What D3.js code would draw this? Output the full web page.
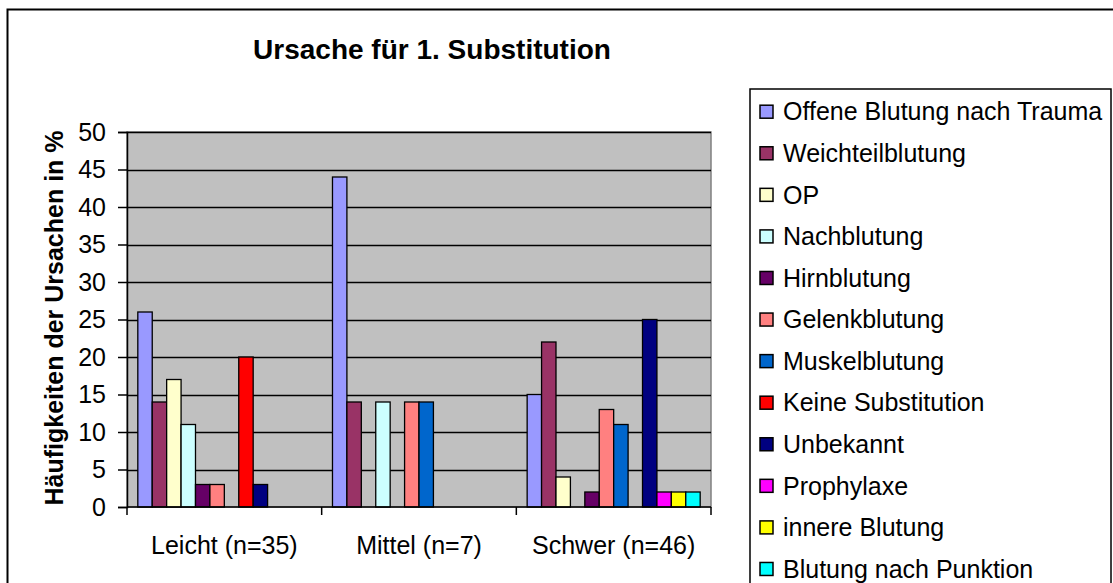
<!DOCTYPE html>
<html>
<head>
<meta charset="utf-8">
<script src="https://cdn.jsdelivr.net/npm/d3@7/dist/d3.min.js"></script>
<style>
  html, body { margin: 0; padding: 0; background: #fff; }
  svg { display: block; }
  text { font-family: "Liberation Sans", Arial, sans-serif; fill: #000; }
</style>
</head>
<body>
<svg id="chart" width="1113" height="583"></svg>
<script>
// ---- data ----
const categories = ["Leicht (n=35)", "Mittel (n=7)", "Schwer (n=46)"];
const seriesNames = [
  "Offene Blutung nach Trauma", "Weichteilblutung", "OP", "Nachblutung",
  "Hirnblutung", "Gelenkblutung", "Muskelblutung", "Keine Substitution",
  "Unbekannt", "Prophylaxe", "innere Blutung", "Blutung nach Punktion"
];
const seriesColors = [
  "#9999FF", "#993366", "#FFFFCC", "#CCFFFF", "#660066", "#FF8080",
  "#0066CC", "#FF0000", "#000080", "#FF00FF", "#FFFF00", "#00FFFF"
];
// values per series: [Leicht, Mittel, Schwer]
const offeneBlutung = [26, 44, 15];
const weichteilblutung = [14, 14, 22];
const op = [17, 0, 4];
const nachblutung = [11, 14, 0];
const hirnblutung = [3, 0, 2];
const gelenkblutung = [3, 14, 13];
const muskelblutung = [0, 14, 11];
const keineSubstitution = [20, 0, 0];
const unbekannt = [3, 0, 25];
const prophylaxe = [0, 0, 2];
const innereBlutung = [0, 0, 2];
const blutungNachPunktion = [0, 0, 2];
const yTicks = [0, 5, 10, 15, 20, 25, 30, 35, 40, 45, 50];
const titleText = "Ursache für 1. Substitution";
const yTitle = "Häufigkeiten der Ursachen in %";

const seriesValues = [offeneBlutung, weichteilblutung, op, nachblutung, hirnblutung,
  gelenkblutung, muskelblutung, keineSubstitution, unbekannt, prophylaxe,
  innereBlutung, blutungNachPunktion];

// ---- layout ----
const svg = d3.select("#chart");
const plot = { left: 127, right: 711, top: 132, bottom: 507 };

// outer border
svg.append("rect").attr("x", 7.5).attr("y", 9.5).attr("width", 1120).attr("height", 600)
  .attr("fill", "#fff").attr("stroke", "#000").attr("stroke-width", 2);

// title
svg.append("text").attr("x", 432).attr("y", 59).attr("text-anchor", "middle")
  .style("font-size", "28px").style("font-weight", "bold").text(titleText);

const x0 = d3.scaleBand().domain(categories).range([plot.left, plot.right]).paddingInner(0).paddingOuter(0);
const nS = seriesNames.length;
const gapRatio = 1.5;
const x1 = d3.scaleBand().domain(d3.range(nS))
  .range([0, x0.bandwidth()])
  .paddingInner(0)
  .paddingOuter(gapRatio / 2);
const y = d3.scaleLinear().domain([0, 50]).range([plot.bottom, plot.top]);

// plot background
svg.append("rect").attr("x", plot.left).attr("y", plot.top)
  .attr("width", plot.right - plot.left).attr("height", plot.bottom - plot.top)
  .attr("fill", "#C0C0C0").attr("stroke", "#808080").attr("stroke-width", 1.5);

// gridlines
svg.append("g").selectAll("line").data(yTicks.filter(t => t > 0)).join("line")
  .attr("x1", plot.left).attr("x2", plot.right)
  .attr("y1", d => Math.round(y(d)) + 0.5).attr("y2", d => Math.round(y(d)) + 0.5)
  .attr("stroke", "#000").attr("stroke-width", 1.5);

// bars
const rows = [];
seriesValues.forEach((vals, si) => {
  vals.forEach((v, ci) => { if (v > 0) rows.push({ si, ci, v }); });
});
svg.append("g").selectAll("rect").data(rows).join("rect")
  .attr("x", d => x0(categories[d.ci]) + x1(d.si))
  .attr("y", d => y(d.v))
  .attr("width", x1.bandwidth())
  .attr("height", d => y(0) - y(d.v))
  .attr("fill", d => seriesColors[d.si])
  .attr("stroke", "#000").attr("stroke-width", 1.3);

// y axis
const yAxis = d3.axisLeft(y).tickValues(yTicks).tickSize(9).tickPadding(12);
const gy = svg.append("g").attr("transform", `translate(${plot.left},0)`).call(yAxis);
gy.select(".domain").attr("stroke", "#000").attr("stroke-width", 1.5);
gy.selectAll(".tick line").attr("stroke", "#000").attr("stroke-width", 1.5);
gy.selectAll("text").style("font-size", "25px").style("font-family", "Liberation Sans, Arial, sans-serif").attr("fill", "#000");

// x axis (ticks at category boundaries)
const xAxisG = svg.append("g").attr("transform", `translate(0,${plot.bottom})`);
xAxisG.append("line").attr("x1", plot.left).attr("x2", plot.right).attr("y1", 0).attr("y2", 0)
  .attr("stroke", "#000").attr("stroke-width", 1.5);
const boundaries = categories.map(c => x0(c)).concat([plot.right]);
xAxisG.selectAll("line.tk").data(boundaries).join("line").attr("class", "tk")
  .attr("x1", d => d).attr("x2", d => d).attr("y1", 0).attr("y2", 8)
  .attr("stroke", "#000").attr("stroke-width", 1.5);
xAxisG.selectAll("text").data(categories).join("text")
  .attr("x", d => x0(d) + x0.bandwidth() / 2).attr("y", 47)
  .attr("text-anchor", "middle").style("font-size", "25px").text(d => d);

// y title
svg.append("text").attr("transform", `translate(63,318) rotate(-90)`)
  .attr("text-anchor", "middle").style("font-size", "25px").style("font-weight", "bold")
  .text(yTitle);

// legend
const leg = svg.append("g");
leg.append("rect").attr("x", 750).attr("y", 89).attr("width", 361).attr("height", 520)
  .attr("fill", "#fff").attr("stroke", "#000").attr("stroke-width", 1.5);
const legItems = leg.selectAll("g.item").data(seriesNames).join("g").attr("class", "item")
  .attr("transform", (d, i) => `translate(0,${111.7 + i * 41.57})`);
legItems.append("rect").attr("x", 760).attr("y", -6.5).attr("width", 13).attr("height", 13)
  .attr("fill", (d, i) => seriesColors[i]).attr("stroke", "#000").attr("stroke-width", 1.5);
legItems.append("text").attr("x", 783).attr("y", 0).attr("dy", "0.35em")
  .style("font-size", "25px").text(d => d);
</script>
</body>
</html>
